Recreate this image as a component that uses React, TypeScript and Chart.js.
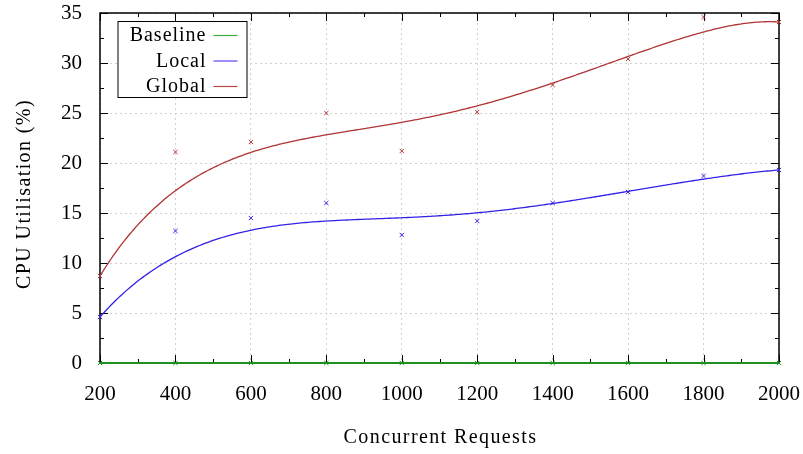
import React, { useEffect, useRef } from "react";
import { Chart, registerables } from "chart.js";
Chart.register(...registerables);

const requests = [200, 400, 600, 800, 1000, 1200, 1400, 1600, 1800, 2000];
const baseline = [0, 0, 0, 0, 0, 0, 0, 0, 0, 0];
const local = [4.6, 13.2, 14.5, 16.0, 12.8, 14.2, 16.0, 17.1, 18.7, 19.3];
const globalVals = [8.7, 21.1, 22.1, 25.0, 21.2, 25.1, 27.8, 30.4, 34.6, 34.1];
const seriesNames = ["Baseline", "Local", "Global"];
const seriesColors = ["#1f8f1f", "#3322e6", "#b03434"];
const legendColors = ["#3cac3c", "#5544ee", "#b84444"];
const xTickValues = [200, 400, 600, 800, 1000, 1200, 1400, 1600, 1800, 2000];
const yTickValues = [0, 5, 10, 15, 20, 25, 30, 35];
const xTitle = "Concurrent Requests";
const yTitle = "CPU Utilisation (%)";

const FONT = "'Liberation Serif', 'DejaVu Serif', serif";

// gnuplot "smooth bezier": Bezier curve with all data points as control points
function bezier(xs: number[], ys: number[], steps: number) {
  const n = xs.length - 1;
  const binom: number[] = [];
  for (let k = 0; k <= n; k++) {
    let c = 1;
    for (let i = 1; i <= k; i++) c = (c * (n - k + i)) / i;
    binom.push(c);
  }
  const pts: { x: number; y: number }[] = [];
  for (let s = 0; s <= steps; s++) {
    const t = s / steps;
    let bx = 0, by = 0;
    for (let k = 0; k <= n; k++) {
      const w = binom[k] * Math.pow(t, k) * Math.pow(1 - t, n - k);
      bx += w * xs[k];
      by += w * ys[k];
    }
    pts.push({ x: bx, y: by });
  }
  return pts;
}

const framePlugin = {
  id: "frame",
  beforeDatasetsDraw(chart: any) {
    const { ctx, chartArea, scales } = chart;
    const { left, right, top, bottom } = chartArea;
    const x = scales.x, y = scales.y;
    ctx.save();
    ctx.strokeStyle = "#000";
    ctx.lineWidth = 1;
    ctx.beginPath();
    const xMin = xTickValues[0], xMax = xTickValues[xTickValues.length - 1];
    const xStep = (xTickValues[1] - xTickValues[0]) / 2;
    for (let v = xMin, i = 0; v <= xMax + 0.001; v += xStep, i++) {
      const px = Math.round(x.getPixelForValue(v)) + 0.5;
      const len = i % 2 === 0 ? 8 : 4;
      ctx.moveTo(px, bottom);
      ctx.lineTo(px, bottom - len);
      ctx.moveTo(px, top);
      ctx.lineTo(px, top + len);
    }
    const yMin = yTickValues[0], yMax = yTickValues[yTickValues.length - 1];
    const yStep = (yTickValues[1] - yTickValues[0]) / 2;
    for (let v = yMin, i = 0; v <= yMax + 0.001; v += yStep, i++) {
      const py = Math.round(y.getPixelForValue(v)) + 0.5;
      const len = i % 2 === 0 ? 8 : 4;
      ctx.moveTo(left, py);
      ctx.lineTo(left + len, py);
      ctx.moveTo(right, py);
      ctx.lineTo(right - len, py);
    }
    ctx.stroke();
    ctx.lineWidth = 1.5;
    ctx.strokeRect(left, top, right - left, bottom - top);
    ctx.restore();
  },
  afterDraw(chart: any) {
    const { ctx, chartArea } = chart;
    const { left, right, top, bottom } = chartArea;
    ctx.save();
    // axis titles
    ctx.fillStyle = "#000";
    ctx.font = "20px " + FONT;
    (ctx as any).letterSpacing = "1.4px";
    ctx.textAlign = "center";
    ctx.textBaseline = "middle";
    ctx.fillText(xTitle, (left + right) / 2 + 1, 438);
    ctx.save();
    ctx.translate(25, (top + bottom) / 2 + 6);
    ctx.rotate(-Math.PI / 2);
    ctx.fillText(yTitle, 0, 0);
    ctx.restore();
    // legend
    const bx = left + 17.5, by = top + 8, bw = 129, bh = 76;
    ctx.fillStyle = "#fff";
    ctx.fillRect(bx, by, bw, bh);
    ctx.strokeStyle = "#000";
    ctx.lineWidth = 1;
    ctx.strokeRect(bx + 0.5, by + 0.5, bw, bh);
    (ctx as any).letterSpacing = "1px";
    ctx.font = "20px " + FONT;
    ctx.textAlign = "right";
    ctx.textBaseline = "middle";
    seriesNames.forEach((name, i) => {
      const ry = by + 14 + i * 25.5;
      ctx.fillStyle = "#000";
      ctx.fillText(name, bx + 89, ry + 1);
      ctx.strokeStyle = legendColors[i];
      ctx.lineWidth = 1.2;
      ctx.beginPath();
      ctx.moveTo(bx + 96, ry + 0.5);
      ctx.lineTo(bx + 120, ry + 0.5);
      ctx.stroke();
    });
    ctx.restore();
  },
};

export default function App() {
  const ref = useRef<HTMLCanvasElement>(null);
  useEffect(() => {
    if (!ref.current) return;
    const all = [baseline, local, globalVals];
    const datasets: any[] = [];
    all.forEach((vals, i) => {
      datasets.push({
        type: "line",
        label: seriesNames[i] + " fit",
        data: i === 0 ? requests.map((r, j) => ({ x: r, y: vals[j] })) : bezier(requests, vals, 300),
        borderColor: seriesColors[i],
        borderWidth: i === 0 ? 2 : 1.3,
        pointRadius: 0,
        fill: false,
        tension: 0,
        clip: false,
      });
      datasets.push({
        type: "scatter",
        label: seriesNames[i],
        data: requests.map((r, j) => ({ x: r, y: vals[j] })),
        borderColor: seriesColors[i],
        backgroundColor: seriesColors[i],
        pointStyle: "crossRot",
        pointRadius: 3,
        borderWidth: 1,
        clip: false,
      });
    });
    const chart = new Chart(ref.current, {
      type: "scatter",
      data: { datasets },
      options: {
        animation: false,
        responsive: false,
        devicePixelRatio: 1,
        layout: { padding: { left: 0, top: 13, right: 24, bottom: 0 } },
        plugins: { legend: { display: false }, tooltip: { enabled: false } },
        scales: {
          x: {
            type: "linear",
            min: 200,
            max: 2000,
            afterBuildTicks: (s: any) => { s.ticks = xTickValues.map((v) => ({ value: v })); },
            afterFit: (s: any) => { s.height = 91; s.paddingLeft = 0; s.paddingRight = 0; },
            grid: { color: "#d0d0d0", lineWidth: 1, drawTicks: false },
            border: { display: false, dash: [2, 3] },
            ticks: {
              autoSkip: false,
              maxRotation: 0,
              padding: 19,
              color: "#000",
              font: { family: FONT, size: 21 },
              callback: (v: any) => String(v),
            },
          },
          y: {
            type: "linear",
            min: 0,
            max: 35,
            afterBuildTicks: (s: any) => { s.ticks = yTickValues.map((v) => ({ value: v })); },
            afterFit: (s: any) => { s.width = 100; s.paddingTop = 0; s.paddingBottom = 0; },
            grid: { color: "#d0d0d0", lineWidth: 1, drawTicks: false },
            border: { display: false, dash: [2, 3] },
            ticks: {
              padding: 18,
              color: "#000",
              font: { family: FONT, size: 21 },
              callback: (v: any) => String(v),
            },
          },
        },
      },
      plugins: [framePlugin],
    } as any);
    return () => chart.destroy();
  }, []);
  return (
    <div style={{ position: "fixed", left: 0, top: 0, width: 803, height: 454, background: "#fff" }}>
      <canvas ref={ref} width={803} height={454} style={{ display: "block" }} />
    </div>
  );
}
